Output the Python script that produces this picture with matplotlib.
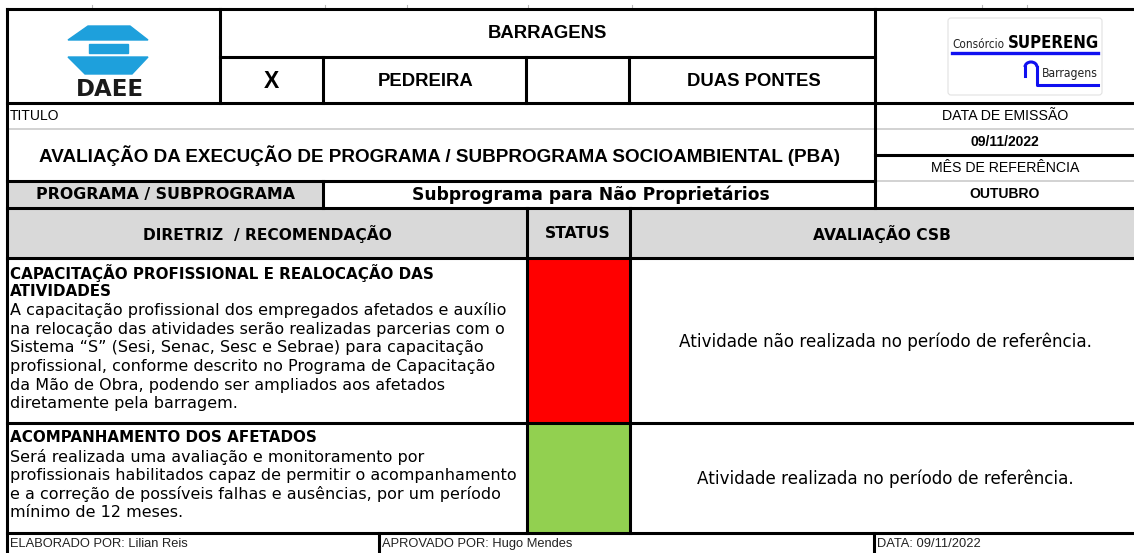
#recreating the PBA evaluation sheet (DAEE / SUPERENG) as a matplotlib figure
import matplotlib
matplotlib.use('agg')
import matplotlib.pyplot as plt
from matplotlib.patches import Polygon, Rectangle, FancyBboxPatch, Arc
from matplotlib import font_manager
from matplotlib.font_manager import FontProperties

# ---- sheet contents ----
empreendimento = 'BARRAGENS'
obras = ['X', 'PEDREIRA', '', 'DUAS PONTES']
titulo_label = 'TITULO'
titulo = 'AVALIAÇÃO DA EXECUÇÃO DE PROGRAMA / SUBPROGRAMA SOCIOAMBIENTAL (PBA)'
data_emissao = '09/11/2022'
mes_referencia = 'OUTUBRO'
programa_label = 'PROGRAMA / SUBPROGRAMA'
subprograma = 'Subprograma para Não Proprietários'
cabecalho = ['DIRETRIZ  / RECOMENDAÇÃO', 'STATUS', 'AVALIAÇÃO CSB']

diretriz_titulos = [
    ['CAPACITAÇÃO PROFISSIONAL E REALOCAÇÃO DAS', 'ATIVIDADES'],
    ['ACOMPANHAMENTO DOS AFETADOS'],
]
diretriz_textos = [
    ['A capacitação profissional dos empregados afetados e auxílio',
     'na relocação das atividades serão realizadas parcerias com o',
     'Sistema “S” (Sesi, Senac, Sesc e Sebrae) para capacitação',
     'profissional, conforme descrito no Programa de Capacitação',
     'da Mão de Obra, podendo ser ampliados aos afetados',
     'diretamente pela barragem.'],
    ['Será realizada uma avaliação e monitoramento por',
     'profissionais habilitados capaz de permitir o acompanhamento',
     'e a correção de possíveis falhas e ausências, por um período',
     'mínimo de 12 meses.'],
]
status_cores = ['#ff0000', '#92d050']
avaliacoes = ['Atividade não realizada no período de referência.',
              'Atividade realizada no período de referência.']
rodape = ['ELABORADO POR: Lilian Reis', 'APROVADO POR: Hugo Mendes', 'DATA: 09/11/2022']

# fonts
arial = 'Liberation Sans'
tahoma = 'DejaVu Sans'
apertadas = ('condensed', 'semi-condensed', 'extra-condensed', 'ultra-condensed')
cond = [f for f in font_manager.fontManager.ttflist
        if f.style == 'normal' and ('Narrow' in f.name or 'Condensed' in f.name
                                    or f.stretch in apertadas)]
cond_bold = [f for f in cond if (f.weight if isinstance(f.weight, int) else 700 if 'bold' in str(f.weight) else 400) >= 700]
cond_reg = [f for f in cond if f not in cond_bold]
fp_reg = FontProperties(fname=cond_reg[0].fname) if cond_reg else FontProperties(family=arial)
fp_bold = FontProperties(fname=cond_bold[0].fname) if cond_bold else FontProperties(family=arial, weight='bold')

W, H = 1134, 553
fig = plt.figure(figsize=(W / 100, H / 100), dpi=100)
ax = fig.add_axes([0, 0, 1, 1])
ax.set_xlim(0, W)
ax.set_ylim(H, 0)
ax.axis('off')
renderer = fig.canvas.get_renderer()

def caber(t, largura):
    # shrink/grow a text so it spans the given width in pixels
    w = t.get_window_extent(renderer).width
    t.set_fontsize(t.get_fontsize() * largura / w)

L, R = 7, W
cinza = '#d9d9d9'

# fills
ax.add_patch(Rectangle((L, 181), 323 - L, 27, color=cinza, zorder=1))
ax.add_patch(Rectangle((L, 208), R - L, 50, color=cinza, zorder=1))
linhas_y = [258, 423, 533]
for i, cor in enumerate(status_cores):
    ax.add_patch(Rectangle((527, linhas_y[i]), 103, linhas_y[i + 1] - linhas_y[i],
                           color=cor, zorder=1))

# grid lines
lw = 2.2
def hl(y, x0, x1, c='black', w=lw):
    ax.plot([x0, x1], [y, y], color=c, lw=w, solid_capstyle='projecting', zorder=3)
def vl(x, y0, y1, c='black', w=lw):
    ax.plot([x, x], [y0, y1], color=c, lw=w, solid_capstyle='projecting', zorder=3)

hl(129, L, R, '#cfcfcf', 1.3)
hl(181, 875, R, '#cfcfcf', 1.3)
for y in [9, 103, 208, 258, 423, 533]:
    hl(y, L, R)
hl(57, 220, 875)
hl(155, 875, R)
hl(181, L, 875)
vl(L, 9, H)
for x in [220, 875]:
    vl(x, 9, 103)
for x in [323, 526, 629]:
    vl(x, 57, 103)
vl(875, 103, 208)
vl(323, 181, 208)
vl(527, 208, 533)
vl(630, 208, 533)
vl(379, 533, H)
vl(874, 533, H)
# little column marks above the sheet
for x in [92, 325, 407, 528, 632, 982, 1027]:
    ax.plot([x, x], [5, 8], color='#bbbbbb', lw=0.8, zorder=2)

# DAEE logo
azul = '#1ea0dc'
ax.add_patch(Polygon([(88, 26), (130, 26), (148, 40), (68, 40)], color=azul, zorder=2))
ax.add_patch(Rectangle((89, 44), 39, 9, color=azul, zorder=2))
ax.add_patch(Polygon([(68, 57), (148, 57), (132, 74), (85, 74)], color=azul, zorder=2))
ax.text(110, 89, 'DAEE', ha='center', va='center', fontsize=16.5, fontweight='bold',
        family='DejaVu Sans', color='#1a1a1a', zorder=4)

# SUPERENG logo
ax.add_patch(FancyBboxPatch((948, 18), 154, 77, boxstyle='round,pad=0,rounding_size=3',
                            fc='white', ec='#e2e2e2', lw=0.8, zorder=2))
t = ax.text(952, 48, 'Consórcio', ha='left', va='baseline', fontproperties=fp_reg,
            color='#222222', zorder=4)
t.set_fontsize(10)
caber(t, 52)
t = ax.text(1099, 48, 'SUPERENG', ha='right', va='baseline', fontproperties=fp_bold,
            color='black', zorder=4)
t.set_fontsize(14)
caber(t, 92)
azul2 = '#1010f0'
ax.plot([952, 1098], [52.5, 52.5], color=azul2, lw=2.4, zorder=4)
ax.add_patch(Arc((1031, 67), 12, 10, theta1=180, theta2=360, color=azul2, lw=2.2, zorder=4))
ax.plot([1025, 1025], [67, 76], color=azul2, lw=2.2, zorder=4)
ax.plot([1037, 1037, 1098], [67, 85, 85], color=azul2, lw=2.2, zorder=4)
t = ax.text(1098, 74, 'Barragens', ha='right', va='center', fontproperties=fp_reg,
            color='#222222', zorder=4)
t.set_fontsize(10)
caber(t, 56)

# header texts
ax.text(547, 33, empreendimento, ha='center', va='center', fontsize=13.3,
        fontweight='bold', family=arial, zorder=4)
obra_x = [271, 426, 578, 754]
for x, t in zip(obra_x, obras):
    ax.text(x, 81, t, ha='center', va='center', fontsize=16.5 if t == 'X' else 13.3,
            fontweight='bold', family=arial, zorder=4)

ax.text(10, 116, titulo_label, ha='left', va='center', fontsize=10, family=arial, zorder=4)
ax.text(440, 156, titulo, ha='center', va='center', fontsize=13.6, fontweight='bold',
        family=arial, zorder=4)
dx = 1005
ax.text(dx, 116, 'DATA DE EMISSÃO', ha='center', va='center', fontsize=10.2, family=arial, zorder=4)
ax.text(dx, 142, data_emissao, ha='center', va='center', fontsize=10, fontweight='bold',
        family=arial, zorder=4)
ax.text(dx, 168, 'MÊS DE REFERÊNCIA', ha='center', va='center', fontsize=10.2, family=arial, zorder=4)
ax.text(dx, 194, mes_referencia, ha='center', va='center', fontsize=10, fontweight='bold',
        family=arial, zorder=4)

ax.text(165, 195, programa_label, ha='center', va='center', fontsize=11.4,
        fontweight='bold', family=tahoma, zorder=4)
ax.text(591, 195, subprograma, ha='center', va='center', fontsize=12.3,
        fontweight='bold', family=tahoma, zorder=4)

cab_x = [267, 578, 882]
for x, t in zip(cab_x, cabecalho):
    ax.text(x, 234, t, ha='center', va='center', fontsize=11.2, fontweight='bold',
            family=tahoma, zorder=4)

# body rows
passo = 18.7
topos = [273, 438]
for i in range(2):
    y = topos[i]
    for t in diretriz_titulos[i]:
        ax.text(10, y, t, ha='left', va='center', fontsize=10.9, fontweight='bold',
                family=tahoma, zorder=4)
        y += passo
    for t in diretriz_textos[i]:
        ax.text(10, y, t, ha='left', va='center', fontsize=11.55, family=tahoma, zorder=4)
        y += passo
    ax.text(885, (linhas_y[i] + linhas_y[i + 1]) / 2 + 1, avaliacoes[i], ha='center',
            va='center', fontsize=12.1, family=tahoma, zorder=4)

# footer
for x, t in zip([10, 382, 877], rodape):
    ax.text(x, 544, t, ha='left', va='center', fontsize=9.3, family=arial,
            color='#222222', zorder=4)

fig.savefig('out.png', dpi=100)
